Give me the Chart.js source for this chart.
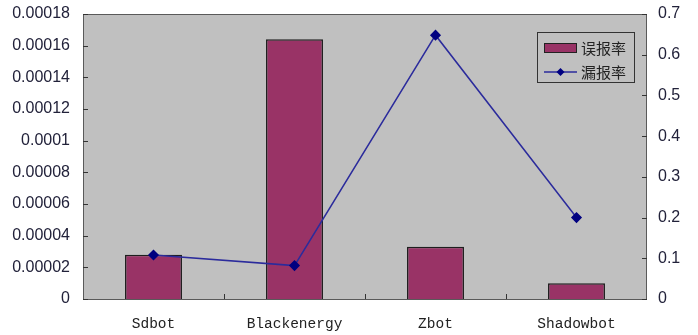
<!DOCTYPE html>
<html>
<head>
<meta charset="utf-8">
<script src="https://cdn.jsdelivr.net/npm/chart.js@4/dist/chart.umd.min.js"></script>
<style>
  html, body { margin: 0; padding: 0; background: #ffffff; }
  #wrap { width: 698px; height: 335px; position: relative; }
</style>
</head>
<body>
<div id="wrap"><canvas id="c" width="698" height="335"></canvas></div>
<script>
// Botnet families on the category axis
const categories = ['Sdbot', 'Blackenergy', 'Zbot', 'Shadowbot'];
// 误报率 (false positive rate), left axis
const falsePositiveRate = [0.000028, 0.000164, 0.000033, 0.00001];
// 漏报率 (false negative rate), right axis
const falseNegativeRate = [0.108, 0.082, 0.648, 0.2];

// Axis tick values and their printed labels
const leftTickValues = [0, 0.00002, 0.00004, 0.00006, 0.00008, 0.0001, 0.00012, 0.00014, 0.00016, 0.00018];
const leftTickLabels = ['0', '0.00002', '0.00004', '0.00006', '0.00008', '0.0001', '0.00012', '0.00014', '0.00016', '0.00018'];
const rightTickValues = [0, 0.1, 0.2, 0.3, 0.4, 0.5, 0.6, 0.7];
const rightTickLabels = ['0', '0.1', '0.2', '0.3', '0.4', '0.5', '0.6', '0.7'];

const PLOT_BG = '#c0c0c0';
const BAR_FILL = '#993366';
const LINE_COLOR = '#2b2b9c';
const MARKER_COLOR = '#000080';
const TICK_COLOR = '#22223a';

// Gray plot area, frame and inward tick marks
const plotFrame = {
  id: 'plotFrame',
  beforeDatasetsDraw(chart) {
    const { ctx, chartArea: a, scales } = chart;
    ctx.save();
    ctx.fillStyle = PLOT_BG;
    ctx.fillRect(a.left, a.top, a.right - a.left, a.bottom - a.top);
    ctx.strokeStyle = '#5a5a5a';
    ctx.lineWidth = 1;
    ctx.strokeRect(a.left + 0.5, a.top + 0.5, a.right - a.left - 1, a.bottom - a.top);
    ctx.strokeStyle = '#333';
    ctx.beginPath();
    leftTickValues.forEach(v => {
      const y = Math.round(scales.y.getPixelForValue(v)) + 0.5;
      ctx.moveTo(a.left, y); ctx.lineTo(a.left + 5, y);
    });
    rightTickValues.forEach(v => {
      const y = Math.round(scales.y2.getPixelForValue(v)) + 0.5;
      ctx.moveTo(a.right - 5, y); ctx.lineTo(a.right, y);
    });
    for (let i = 1; i < categories.length; i++) {
      const x = Math.round((scales.x.getPixelForValue(i - 1) + scales.x.getPixelForValue(i)) / 2) + 0.5;
      ctx.moveTo(x, a.bottom); ctx.lineTo(x, a.bottom - 5);
    }
    ctx.stroke();
    ctx.restore();
  }
};

// Boxed legend in the upper right of the plot
const boxLegend = {
  id: 'boxLegend',
  afterDraw(chart) {
    const { ctx } = chart;
    const ds = chart.data.datasets;
    const x0 = 537, y0 = 32, w = 97, h = 50;
    ctx.save();
    ctx.fillStyle = PLOT_BG;
    ctx.fillRect(x0, y0, w, h);
    ctx.strokeStyle = '#333';
    ctx.lineWidth = 1;
    ctx.strokeRect(x0 + 0.5, y0 + 0.5, w, h);
    // bar swatch
    ctx.fillStyle = BAR_FILL;
    ctx.fillRect(544, 43, 33, 10);
    ctx.strokeStyle = '#222';
    ctx.strokeRect(544.5, 43.5, 32, 9);
    // line swatch
    ctx.strokeStyle = LINE_COLOR;
    ctx.lineWidth = 1.5;
    ctx.beginPath(); ctx.moveTo(544, 72); ctx.lineTo(577, 72); ctx.stroke();
    ctx.fillStyle = MARKER_COLOR;
    ctx.beginPath();
    ctx.moveTo(560.5, 68); ctx.lineTo(564.5, 72); ctx.lineTo(560.5, 76); ctx.lineTo(556.5, 72);
    ctx.closePath(); ctx.fill();
    ctx.fillStyle = '#222';
    ctx.font = '15px "Noto Sans CJK SC"';
    ctx.textBaseline = 'middle';
    ctx.fillText(ds[1].label, 581, 48);
    ctx.fillText(ds[0].label, 581, 72);
    ctx.restore();
  }
};

// Vertical axes: fixed width, no extra top/bottom room for end labels
function fitVertical(width) {
  return s => { s.width = width; s.paddingTop = 0; s.paddingBottom = 0; };
}

new Chart(document.getElementById('c'), {
  data: {
    labels: categories,
    datasets: [
      {
        type: 'line',
        label: '漏报率',
        data: falseNegativeRate,
        yAxisID: 'y2',
        borderColor: LINE_COLOR,
        borderWidth: 1.5,
        pointStyle: 'rectRot',
        pointRadius: 4.5,
        pointBackgroundColor: MARKER_COLOR,
        pointBorderColor: MARKER_COLOR,
        tension: 0,
        order: 0
      },
      {
        type: 'bar',
        label: '误报率',
        data: falsePositiveRate,
        yAxisID: 'y',
        backgroundColor: BAR_FILL,
        borderColor: '#1e1e1e',
        borderWidth: 1.5,
        categoryPercentage: 1,
        barPercentage: 0.404,
        order: 1
      }
    ]
  },
  options: {
    responsive: false,
    animation: false,
    devicePixelRatio: 1,
    layout: { padding: { left: 0, right: 0, top: 14, bottom: 0 } },
    plugins: { legend: { display: false }, tooltip: { enabled: false } },
    scales: {
      x: {
        offset: true,
        grid: { display: false, drawTicks: false },
        border: { display: false },
        ticks: {
          color: '#222',
          padding: 16,
          maxRotation: 0,
          font: { family: '"Liberation Mono", "DejaVu Sans Mono", monospace', size: 14.5 }
        },
        afterFit(s) { s.height = 36; s.paddingLeft = 0; s.paddingRight = 0; }
      },
      y: {
        position: 'left',
        min: 0,
        max: 0.00018,
        grid: { display: false, drawTicks: false },
        border: { display: false },
        afterBuildTicks(s) { s.ticks = leftTickValues.map(v => ({ value: v })); },
        ticks: {
          color: TICK_COLOR,
          padding: 13,
          font: { family: '"Liberation Sans", Arial, sans-serif', size: 16 },
          callback: (v, i) => leftTickLabels[i]
        },
        afterFit: fitVertical(83)
      },
      y2: {
        position: 'right',
        min: 0,
        max: 0.7,
        grid: { display: false, drawTicks: false },
        border: { display: false },
        afterBuildTicks(s) { s.ticks = rightTickValues.map(v => ({ value: v })); },
        ticks: {
          color: TICK_COLOR,
          padding: 11,
          font: { family: '"Liberation Sans", Arial, sans-serif', size: 16 },
          callback: (v, i) => rightTickLabels[i]
        },
        afterFit: fitVertical(51)
      }
    }
  },
  plugins: [plotFrame, boxLegend]
});
</script>
</body>
</html>
